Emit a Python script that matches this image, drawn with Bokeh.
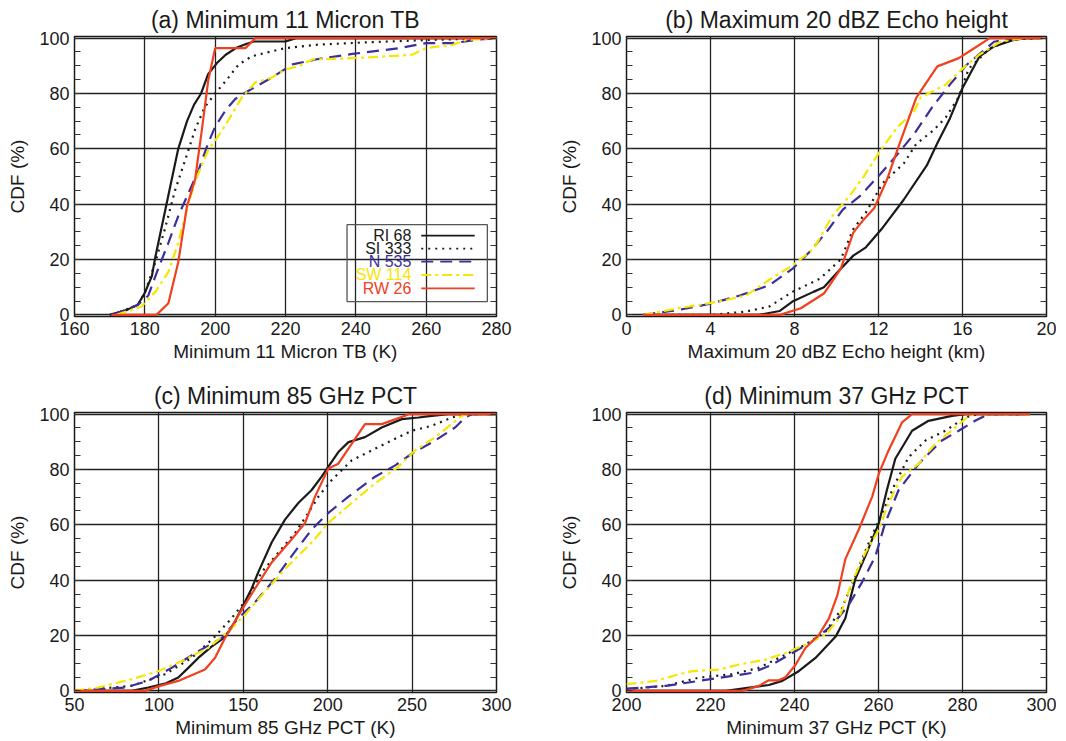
from bokeh.plotting import figure
from bokeh.layouts import column, row
from bokeh.models import Range1d, SingleIntervalTicker, FixedTicker, LinearAxis
from bokeh.embed import file_html
from bokeh.resources import INLINE
from bokeh.core.properties import value

FONT = "Liberation Sans"

series_names = ["RI 68", "SI 333", "N 535", "SW 114", "RW 26"]
series_colors = ["#1a1a1a", "#1a1a1a", "#3b2f9b", "#f6e600", "#f0401f"]
series_dashes = ["solid", "2 5", "12 7", "10 4 3 4", "solid"]

# ---------------- (a) Minimum 11 Micron TB ----------------
a_ri_x = [170, 175, 178, 180, 182, 183, 185, 187, 189.5, 192, 194, 196, 198, 200.5, 203, 206, 209, 211, 220, 223, 280]
a_ri_y = [0, 1.8, 3.6, 8, 14, 21, 33, 45, 60, 70, 76, 80, 87, 91, 94, 96.5, 98, 98.8, 98.8, 100, 100]
a_si_x = [171, 178, 180, 183, 185.7, 188.6, 192, 194.3, 197, 200, 203, 206.7, 210.5, 216, 220, 228.6, 243, 262, 280]
a_si_y = [0, 3.6, 8, 19, 31, 45, 58, 67, 75, 80, 84.5, 90.5, 93.5, 95.2, 96.4, 97.6, 98.5, 99.4, 100]
a_n_x = [171, 178, 181, 183.8, 186.7, 189.5, 192.4, 195.2, 198, 200, 203, 205.7, 209.5, 216, 222, 228.6, 239, 252.4, 260, 267.6, 274.3, 280]
a_n_y = [0, 3.6, 7, 16.7, 26, 35.7, 44, 52, 62, 68, 74, 78, 81, 85.7, 90.5, 92.3, 94.3, 96.4, 98.2, 98.2, 99.4, 100]
a_sw_x = [172, 179, 183, 186.7, 189.5, 192.4, 195.2, 198, 200, 202, 204.8, 207.6, 211.4, 216, 220, 223.8, 227.6, 233, 243, 256, 260, 267.6, 271.4, 280]
a_sw_y = [0, 3, 8.3, 15.5, 26, 40.5, 51, 59.5, 63, 66.7, 72.6, 78.6, 84, 85.7, 88.7, 89.9, 92.3, 92.5, 93, 94, 96.4, 97.6, 99.4, 100]
a_rw_x = [170.5, 183.3, 186.7, 189.5, 192, 194.3, 196.2, 198, 200, 208.6, 211.4, 280]
a_rw_y = [0, 0, 4.2, 19, 39.3, 49, 66.7, 84.5, 96.4, 96.4, 100, 100]

# ---------------- (b) Maximum 20 dBZ Echo height ----------------
b_ri_x = [0.8, 6.3, 7.3, 7.9, 8.9, 9.4, 10, 10.8, 11.4, 12.2, 13.2, 14.3, 14.8, 15.4, 16, 16.8, 17.5, 18.4, 19, 19.8]
b_ri_y = [0, 0, 1.4, 4.8, 8.3, 10, 15, 21.4, 24.4, 31.5, 41.6, 54, 62, 71, 82, 93.3, 97, 99.3, 100, 100]
b_si_x = [0.8, 4.1, 5.7, 6.8, 7.9, 9.2, 10.2, 10.8, 11.4, 12.2, 13.2, 13.8, 14.6, 15.2, 15.8, 16.3, 17.3, 18.4, 19.8]
b_si_y = [0, 0, 1.2, 3, 8.3, 13, 20, 31, 37, 47.6, 54.7, 61.8, 66.6, 71.3, 78.5, 89, 96.3, 99.6, 100]
b_n_x = [0.8, 2.5, 4.1, 5.4, 6.8, 7.9, 8.7, 9.5, 10.3, 11.1, 12.1, 12.9, 13.7, 14.6, 15.4, 16.2, 17.5, 18.4, 19.8]
b_n_y = [0, 1.8, 4.2, 7, 10.7, 16.6, 22.6, 29.7, 38, 42.8, 51, 58, 65.4, 75.5, 83.2, 90.4, 98.7, 100, 100]
b_sw_x = [0.8, 2.5, 4.4, 5.7, 7, 7.9, 8.9, 9.8, 10.6, 11.3, 12.1, 12.9, 13.7, 14, 14.6, 15.2, 16, 16.8, 17.8, 18.9, 19.8]
b_sw_y = [0, 2.4, 4.8, 7, 13.7, 17.8, 23.8, 35.7, 42.8, 50, 59.5, 67.8, 73.7, 78.5, 80.9, 83.2, 89, 94, 98.7, 100, 100]
b_rw_x = [0.8, 7.3, 8.3, 9.4, 10.2, 10.8, 11.3, 11.8, 12.4, 13, 13.8, 14.8, 15.8, 16.3, 17.3, 19.8]
b_rw_y = [0, 0, 2.4, 7.7, 16.6, 29.7, 34.5, 38.6, 48.8, 61.8, 78.5, 89.8, 92.7, 95.1, 100, 100]

# ---------------- (c) Minimum 85 GHz PCT ----------------
c_ri_x = [50, 83.8, 93.7, 103.6, 111.5, 117.4, 123.3, 131.2, 138.1, 143, 149, 154.9, 158.9, 166.8, 174.7, 182.6, 190.5, 196.4, 200.4, 206.3, 212.3, 222.1, 232, 243.9, 253.8, 261.7, 271.5, 300]
c_ri_y = [0, 0, 1.2, 2.6, 4.8, 8.3, 11.9, 16, 19, 22.6, 29.8, 36.9, 42.9, 53.6, 61.9, 67.9, 72.6, 77.4, 81, 86.3, 89.9, 91.7, 95.2, 98.2, 98.8, 99.4, 100, 100]
c_si_x = [50, 83.8, 103.6, 119.4, 132.2, 143, 153, 160.9, 170.8, 180.6, 188.5, 194.5, 202.4, 214.2, 226.1, 237.9, 249.8, 261.7, 273.5, 281.4, 300]
c_si_y = [0, 1.8, 6, 11.9, 19, 26.2, 33.9, 42.9, 50, 57, 64.3, 70.2, 76.2, 83.3, 86.9, 90.5, 94, 95.8, 98.8, 100, 100]
c_n_x = [50, 79.8, 93.7, 107.5, 123.3, 137.2, 147, 156.9, 168.8, 178.7, 190.5, 200.4, 212.3, 228.1, 240, 249.8, 263.7, 275.5, 281.4, 285.4, 300]
c_n_y = [0, 1.2, 3.6, 8.3, 14.3, 19, 26.2, 32, 40.5, 48.8, 58.3, 64.3, 70.2, 77.4, 81.5, 85.7, 90.5, 95.2, 98.8, 100, 100]
c_sw_x = [50, 64, 83.8, 99.6, 113.4, 129.2, 141, 150.9, 160.9, 174.7, 190.5, 200.4, 214.2, 228.1, 241.9, 251.8, 263.7, 273.5, 279.4, 283.4, 300]
c_sw_y = [0, 1.2, 4.2, 7.1, 10.7, 15.5, 21.4, 27.4, 34.5, 44, 53.6, 60.7, 67.9, 75, 81, 86.9, 91.7, 96.4, 99.4, 100, 100]
c_rw_x = [50, 91.7, 100.6, 112.5, 127.3, 133.2, 139.1, 149, 156.9, 166.8, 178.7, 186.6, 192.5, 200.4, 206.3, 214.2, 222.1, 232, 245.8, 247.8, 300]
c_rw_y = [0, 0, 1.8, 3.8, 7.7, 11.9, 19, 29.2, 36.9, 46.4, 54.8, 60.7, 70.2, 80.4, 82.1, 89.3, 96.4, 96.4, 99.4, 100, 100]

# ---------------- (d) Minimum 37 GHz PCT ----------------
d_ri_x = [200, 223.6, 228.4, 233.9, 237.1, 241, 245, 249.8, 252.1, 254.5, 256.9, 260.1, 262, 264, 268, 271.9, 277.5, 280.7, 296]
d_ri_y = [0, 0, 1, 2.1, 3.6, 7.1, 11.9, 19.6, 26.2, 40.5, 48.8, 60.7, 72.6, 83.9, 94, 97.6, 99.4, 100, 100]
d_si_x = [200, 209.4, 217.3, 225.2, 231.5, 237.9, 242.6, 247.4, 251.3, 254.5, 257.7, 260.9, 264, 267.2, 271.2, 275.9, 280.7, 283.8, 296]
d_si_y = [0.6, 1.8, 4.8, 6, 8.3, 13.1, 16.7, 21.4, 29.8, 41.7, 53.6, 64.3, 75, 84.5, 90.5, 94, 98.8, 100, 100]
d_n_x = [200, 209.4, 217.3, 225.2, 230, 234.7, 239.5, 244.2, 249, 252.9, 256.1, 259.3, 261.6, 264.8, 269.6, 275.1, 279.1, 283, 286.2, 296]
d_n_y = [0.8, 1.8, 3.6, 5.4, 6.5, 9.5, 13.7, 17.9, 23.8, 31, 39.3, 48.8, 60.7, 72.6, 82.1, 90.5, 94, 97.6, 100, 100]
d_sw_x = [200, 207, 212.5, 215.7, 222, 226.8, 233.1, 237.9, 242.6, 247.4, 250.6, 253.7, 256.9, 260.1, 262.4, 265.6, 269.6, 273.5, 278.3, 281.5, 283, 296]
d_sw_y = [2.4, 3.6, 6, 7.1, 7.7, 9.5, 11.3, 13.7, 16.7, 20.2, 26.2, 39.3, 50, 58.3, 67.9, 77.4, 82.1, 89.3, 95.2, 99.4, 100, 100]
d_rw_x = [200, 227.6, 231.5, 233.9, 236.3, 237.9, 240.3, 242.6, 245.8, 248.2, 250.2, 252.1, 255.3, 258.5, 260.1, 262.4, 265.6, 268, 296]
d_rw_y = [0, 0, 1.8, 3.8, 3.8, 5, 9.5, 15.5, 20.2, 26.2, 34.5, 47.6, 58.3, 70.2, 78.6, 86.9, 97, 100, 100]

y_minor = list(range(0, 101, 5))


def make_panel(title, xlabel, xstart, xend, xstep, xs, ys, width, height,
               b_left, b_right, b_top, b_bottom):
    p = figure(width=width, height=height, output_backend="svg",
               toolbar_location=None, title=title,
               x_range=Range1d(xstart, xend), y_range=Range1d(-0.6, 100.6),
               min_border_left=b_left, min_border_right=b_right,
               min_border_top=b_top, min_border_bottom=b_bottom)
    p.title.align = "center"
    p.title.text_font = FONT
    p.title.text_font_size = "23px"
    p.title.text_font_style = "normal"
    p.title.text_color = "#1a1a1a"
    p.title.standoff = 7
    p.outline_line_color = "#1a1a1a"
    p.outline_line_width = 1.5
    p.outline_line_alpha = 1

    p.xaxis.ticker = SingleIntervalTicker(interval=xstep, num_minor_ticks=0)
    p.yaxis.ticker = SingleIntervalTicker(interval=20, num_minor_ticks=4)
    for ax in (p.xaxis[0], p.yaxis[0]):
        ax.axis_line_color = None
        ax.major_tick_in = 0
        ax.major_tick_out = 0
        ax.major_label_text_font = FONT
        ax.major_label_text_font_size = "18px"
        ax.major_label_text_color = "#1a1a1a"
        ax.axis_label_text_font = FONT
        ax.axis_label_text_font_size = "19px"
        ax.axis_label_text_font_style = "normal"
        ax.axis_label_text_color = "#1a1a1a"
        ax.major_label_standoff = 5
    p.xaxis.minor_tick_line_color = None
    p.yaxis.minor_tick_in = 6
    p.yaxis.minor_tick_out = 0
    p.yaxis.minor_tick_line_color = "#333333"
    p.yaxis.minor_tick_line_width = 1.2
    p.xaxis.axis_label = xlabel
    p.yaxis.axis_label = "CDF (%)"
    p.yaxis.axis_label_standoff = 8
    p.xaxis.axis_label_standoff = 3

    right = LinearAxis(ticker=FixedTicker(ticks=[], minor_ticks=y_minor),
                       axis_line_color=None, major_tick_in=0, major_tick_out=0,
                       minor_tick_in=6, minor_tick_out=0,
                       minor_tick_line_color="#333333", minor_tick_line_width=1.2,
                       major_label_standoff=0)
    p.add_layout(right, "right")

    p.xgrid.ticker = p.xaxis[0].ticker
    p.grid.grid_line_color = "#222222"
    p.grid.grid_line_width = 1.3
    p.grid.grid_line_alpha = 1

    for x, y, c, d in zip(xs, ys, series_colors, series_dashes):
        p.line(x, y, line_color=c, line_width=2.2, line_dash=d)
    return p


pa = make_panel("(a) Minimum 11 Micron TB", "Minimum 11 Micron TB (K)", 160, 280, 20,
                [a_ri_x, a_si_x, a_n_x, a_sw_x, a_rw_x],
                [a_ri_y, a_si_y, a_n_y, a_sw_y, a_rw_y],
                536, 376, 74, 40, 36, 60)
pb = make_panel("(b) Maximum 20 dBZ Echo height", "Maximum 20 dBZ Echo height (km)", 0, 20, 4,
                [b_ri_x, b_si_x, b_n_x, b_sw_x, b_rw_x],
                [b_ri_y, b_si_y, b_n_y, b_sw_y, b_rw_y],
                520, 376, 90, 10, 36, 60)
pc = make_panel("(c) Minimum 85 GHz PCT", "Minimum 85 GHz PCT (K)", 50, 300, 50,
                [c_ri_x, c_si_x, c_n_x, c_sw_x, c_rw_x],
                [c_ri_y, c_si_y, c_n_y, c_sw_y, c_rw_y],
                536, 364, 74, 40, 36, 48)
pd_ = make_panel("(d) Minimum 37 GHz PCT", "Minimum 37 GHz PCT (K)", 200, 300, 20,
                 [d_ri_x, d_si_x, d_n_x, d_sw_x, d_rw_x],
                 [d_ri_y, d_si_y, d_n_y, d_sw_y, d_rw_y],
                 520, 364, 90, 10, 36, 48)

# legend drawn inside panel (a), labels to the left of the line samples
leg_rows = [28.6, 23.9, 19.2, 14.4, 9.6]
pa.quad(left=[237.5], right=[277.4], bottom=[4.8], top=[32.6],
        fill_color=None, line_color="#555555", line_width=1.3)
pa.text(x=[255.8] * 5, y=leg_rows, text=series_names, text_align="right",
        text_baseline="middle", text_color=series_colors,
        text_font=value(FONT), text_font_size="16px")
for yy, c, d in zip(leg_rows, series_colors, series_dashes):
    pa.line([258.6, 273.8], [yy, yy], line_color=c, line_width=1.8, line_dash=d)

layout = column(row(pa, pb), row(pc, pd_))
open("out.html", "w").write(file_html(layout, INLINE))
